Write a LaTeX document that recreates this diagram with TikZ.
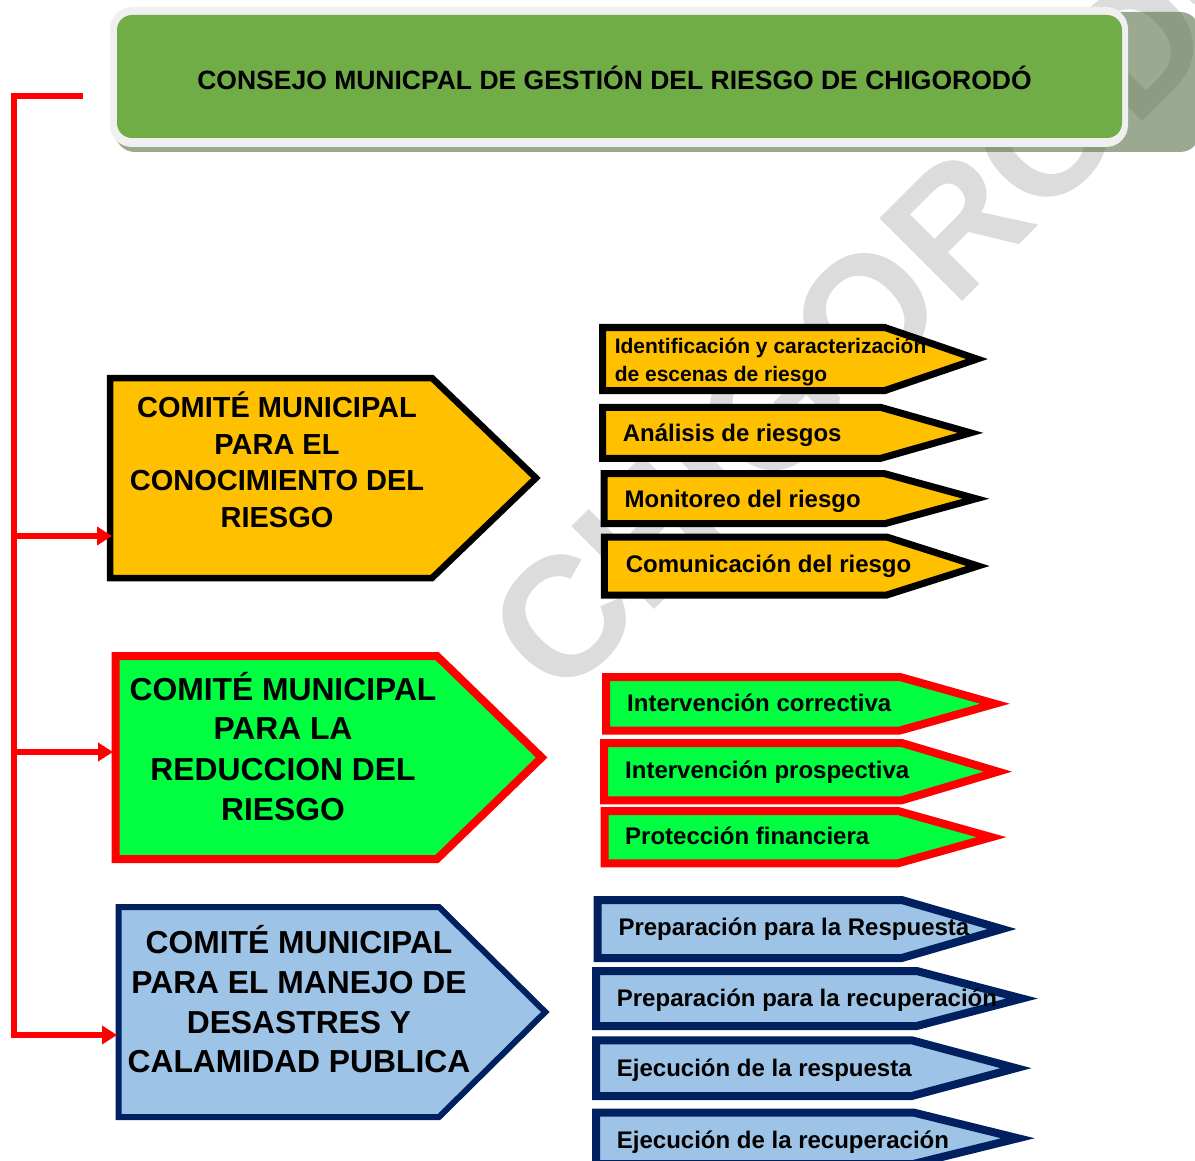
\documentclass[tikz,border=0pt]{standalone}
\usepackage{fontspec}
\setmainfont{Liberation Sans}
\usetikzlibrary{arrows.meta}
\definecolor{hdrgreen}{HTML}{70AD47}
\definecolor{hdrborder}{HTML}{F0F0F0}
\definecolor{hdrshadow}{RGB}{88,113,70}
\definecolor{orfill}{HTML}{FFC000}
\definecolor{grfill}{HTML}{00FF40}
\definecolor{blfill}{HTML}{9DC3E6}
\definecolor{navyline}{HTML}{002060}
\definecolor{wmark}{HTML}{DCDCDC}
\newcommand\myarrowshape[6]{\draw[#1] (#2,#3) -- (#5,#3) -- (#6,{(#3+#4)/2}) -- (#5,#4) -- (#2,#4) -- cycle;}
\begin{document}
\begin{tikzpicture}[x=1pt,y=-1pt,
  shp/.style={line join=miter, miter limit=20},
  orbig/.style={shp, fill=orfill, draw=black, line width=6.5pt},
  grbig/.style={shp, fill=grfill, draw=red, line width=8pt},
  blbig/.style={shp, fill=blfill, draw=navyline, line width=6pt},
  orsmall/.style={shp, fill=orfill, draw=black, line width=7pt},
  grsmall/.style={shp, fill=grfill, draw=red, line width=8pt},
  blsmall/.style={shp, fill=blfill, draw=navyline, line width=8pt},
  bigtxt/.style={font=\fontsize{31.8}{38}\selectfont\bfseries, inner sep=0pt, anchor=base},
  orbigtxt/.style={font=\fontsize{29}{35}\selectfont\bfseries, inner sep=0pt, anchor=base},
  smalltxt/.style={font=\fontsize{24}{28}\selectfont\bfseries, inner sep=0pt, anchor=base west},
  idtxt/.style={font=\fontsize{21}{25}\selectfont\bfseries, inner sep=0pt, anchor=base west},
  redline/.style={draw=red, line width=5.5pt, line join=miter},
  redarrow/.style={redline, -{Triangle[length=15pt,width=18pt]}}
]
\useasboundingbox (0,0) rectangle (1195,1161);
\clip (0,0) rectangle (1195,1161);
\fill[white] (0,0) rectangle (1195,1161);

% watermark
\node[font=\fontsize{170}{170}\selectfont\bfseries, text=wmark, inner sep=0pt,
      anchor=base west, rotate=45] (wm) at (560,704) {CHIGORODÓ};

% header
\fill[hdrshadow, opacity=0.6, rounded corners=20pt] (115,12) rectangle (1200,152);
\fill[hdrborder, rounded corners=22pt] (110,7) rectangle (1128,147);
\fill[hdrgreen, rounded corners=15pt] (117,15) rectangle (1122,138);
\node[font=\fontsize{26.5}{30}\selectfont\bfseries, inner sep=0pt, anchor=base] (title) at (614.5,90)
  {CONSEJO MUNICPAL DE GESTIÓN DEL RIESGO DE CHIGORODÓ};

% big boxes
\myarrowshape{orbig}{110}{378}{578}{432}{536}
\myarrowshape{grbig}{115.5}{656}{859}{437}{541.7}
\myarrowshape{blbig}{118.5}{907}{1117}{439}{545.3}

\node[orbigtxt] (o1) at (277,417.4) {COMITÉ MUNICIPAL};
\node[orbigtxt] (o2) at (277,454) {PARA EL};
\node[orbigtxt] (o3) at (277,490.5) {CONOCIMIENTO DEL};
\node[orbigtxt] (o4) at (277,527) {RIESGO};

\node[bigtxt] (g1) at (283,700) {COMITÉ MUNICIPAL};
\node[bigtxt] (g2) at (283,739.5) {PARA LA};
\node[bigtxt] (g3) at (283,780) {REDUCCION DEL};
\node[bigtxt] (g4) at (283,820) {RIESGO};

\node[bigtxt] (b1) at (299,953.6) {COMITÉ MUNICIPAL};
\node[bigtxt] (b2) at (299,993.9) {PARA EL MANEJO DE};
\node[bigtxt] (b3) at (299,1033.4) {DESASTRES Y};
\node[bigtxt] (b4) at (299,1072.8) {CALAMIDAD PUBLICA};

% small orange arrows
\myarrowshape{orsmall}{602.6}{327.5}{390.6}{884.7}{977}
\myarrowshape{orsmall}{602.6}{407.4}{458.3}{880.8}{970.5}
\myarrowshape{orsmall}{604}{473.7}{523.7}{884.7}{976}
\myarrowshape{orsmall}{604.4}{537}{595}{886.7}{978}
\node[idtxt] (s1a) at (614.6,353.6) {Identificación y caracterización};
\node[idtxt] (s1b) at (614.6,381.3) {de escenas de riesgo};
\node[smalltxt] (s2) at (622.6,441.4) {Análisis de riesgos};
\node[smalltxt] (s3) at (624.5,507.9) {Monitoreo del riesgo};
\node[smalltxt] (s4) at (625.7,572.3) {Comunicación del riesgo};

% small green arrows
\myarrowshape{grsmall}{606}{677}{730.5}{900}{995}
\myarrowshape{grsmall}{604}{743}{800.3}{901.7}{998}
\myarrowshape{grsmall}{604.5}{811}{863.3}{898}{991.5}
\node[smalltxt] (t1) at (627,711.6) {Intervención correctiva};
\node[smalltxt] (t2) at (625,778.3) {Intervención prospectiva};
\node[smalltxt] (t3) at (625,844.3) {Protección financiera};

% small blue arrows
\myarrowshape{blsmall}{597.5}{900}{958}{901.7}{1002}
\myarrowshape{blsmall}{596}{971}{1026}{916.7}{1022}
\myarrowshape{blsmall}{596}{1040.3}{1096}{911.7}{1016}
\myarrowshape{blsmall}{596}{1112.5}{1164}{913.3}{1018}
\node[smalltxt] (u1) at (618.3,935) {Preparación para la Respuesta};
\node[smalltxt] (u2) at (616.7,1006) {Preparación para la recuperación};
\node[smalltxt] (u3) at (616.7,1076) {Ejecución de la respuesta};
\node[smalltxt] (u4) at (616.7,1148.3) {Ejecución de la recuperación};

% red connectors
\coordinate (hook) at (83,96);
\coordinate (trunktop) at (14,96);
\coordinate (trunkbot) at (14,1035);
\coordinate (jo) at (14,536);
\coordinate (jg) at (14,752);
\coordinate (ino) at (112,536);
\coordinate (ing) at (113,752);
\coordinate (inb) at (117,1035);
\draw[redarrow] (hook) -- (trunktop) -- (trunkbot) -- (inb);
\draw[redarrow] (jo) -- (ino);
\draw[redarrow] (jg) -- (ing);
\end{tikzpicture}
\end{document}
